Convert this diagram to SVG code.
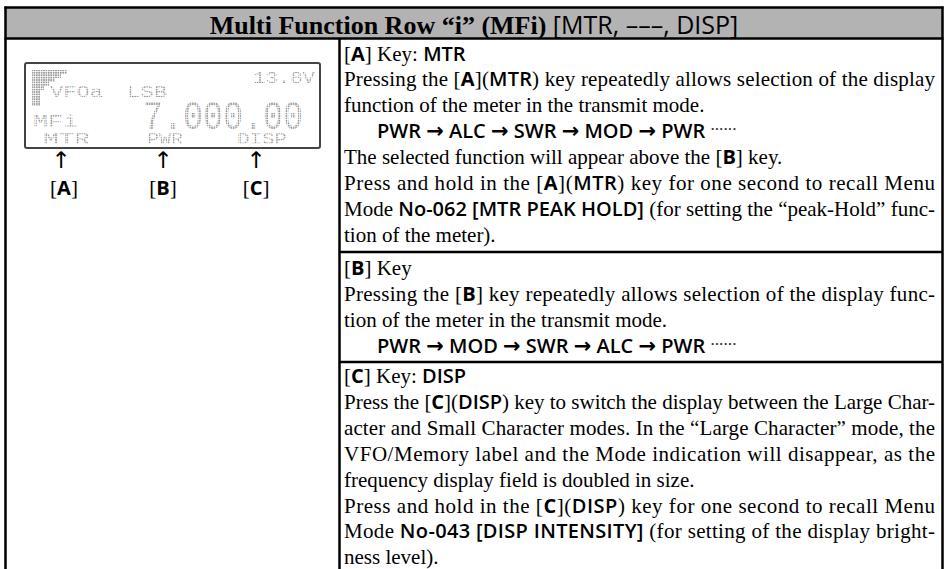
<svg xmlns="http://www.w3.org/2000/svg" width="948" height="569" viewBox="0 0 948 569">
<style>
.t{font-family:"Liberation Serif","Times New Roman",serif;font-size:21px;fill:#000}
.s{font-family:"Open Sans","Liberation Sans",sans-serif;font-weight:600;font-size:20px}
.k{font-family:"Open Sans","Liberation Sans",sans-serif;font-weight:700;font-size:20px}
.a{font-family:"DejaVu Sans",sans-serif;font-weight:700;font-size:21px}
.ttl{font-family:"Liberation Serif","Times New Roman",serif;font-weight:700;font-size:26px;fill:#000}
.ttls{font-family:"Open Sans","Liberation Sans",sans-serif;font-weight:500;font-size:25px}
.lcd{font-family:"Liberation Mono","DejaVu Sans Mono",monospace;fill:url(#dots)}
.dl{font-family:"Liberation Serif",serif;font-size:13px;fill:#333}
.rule{stroke:#000;stroke-width:2.5;fill:none}
.arr{font-family:"DejaVu Sans",sans-serif;font-size:23px;text-anchor:middle}
</style>
<defs>
<pattern id="dots" width="2.4" height="2.4" patternUnits="userSpaceOnUse"><rect width="1.7" height="1.7" fill="#999"/></pattern>
</defs>
<rect width="948" height="569" fill="#fff"/>
<g id="frame">
<rect x="5" y="7" width="938" height="31" fill="#b3b3b3"/>
<line class="rule" x1="4.5" y1="7.5" x2="943.5" y2="7.5"/>
<line class="rule" x1="4.5" y1="38.5" x2="943.5" y2="38.5"/>
<line class="rule" x1="5.5" y1="6.5" x2="5.5" y2="569"/>
<line class="rule" x1="942.5" y1="6.5" x2="942.5" y2="569"/>
<line class="rule" x1="339.5" y1="38" x2="339.5" y2="569"/>
<line class="rule" x1="339" y1="252" x2="943" y2="252"/>
<line class="rule" x1="339" y1="362" x2="943" y2="362"/>
</g>
<g id="title">
<text x="474" y="34" text-anchor="middle"><tspan class="ttl">Multi Function Row “i” (MFi)</tspan><tspan class="ttls"> [MTR,  –––, DISP]</tspan></text>
</g>
<g id="lcd">
<rect x="25" y="63" width="295" height="85" rx="2" fill="#fff" stroke="#444" stroke-width="2"/>
<polygon points="32,70 67,70 67,74 61,74 61,78 55,78 55,82 49,82 49,86 44,86 44,90 40,90 40,106 32,106" fill="url(#dots)"/>
<text class="lcd" x="253" y="83" font-size="17" textLength="62" lengthAdjust="spacingAndGlyphs">13.8V</text>
<text class="lcd" x="50" y="97" font-size="17" textLength="53" lengthAdjust="spacingAndGlyphs">VFOa</text>
<text class="lcd" x="127" y="97" font-size="17" textLength="40" lengthAdjust="spacingAndGlyphs">LSB</text>
<text class="lcd" x="33" y="127" font-size="18" textLength="45" lengthAdjust="spacingAndGlyphs">MFi</text>
<text class="lcd" x="143" y="129" font-size="40" textLength="160" lengthAdjust="spacingAndGlyphs">7.000.00</text>
<text class="lcd" x="43" y="144" font-size="16" textLength="47" lengthAdjust="spacingAndGlyphs">MTR</text>
<text class="lcd" x="147" y="144" font-size="16" textLength="36" lengthAdjust="spacingAndGlyphs">PWR</text>
<text class="lcd" x="237" y="144" font-size="16" textLength="50" lengthAdjust="spacingAndGlyphs">DISP</text>
</g>
<g id="keys">
<text class="arr" x="61" y="168">↑</text>
<text class="arr" x="163" y="168">↑</text>
<text class="arr" x="256" y="168">↑</text>
<text class="t" x="64" y="195" text-anchor="middle">[<tspan class="k">A</tspan>]</text>
<text class="t" x="163" y="195" text-anchor="middle">[<tspan class="k">B</tspan>]</text>
<text class="t" x="256" y="195" text-anchor="middle">[<tspan class="k">C</tspan>]</text>
</g>
<g id="section-a">
<text class="t" x="344" y="60.5">[<tspan class="k">A</tspan>] Key: <tspan class="s">MTR</tspan></text>
<text class="t" x="344" y="86.4" textLength="591" lengthAdjust="spacing">Pressing the [<tspan class="k">A</tspan>](<tspan class="s">MTR</tspan>) key repeatedly allows selection of the display</text>
<text class="t" x="344" y="112.3">function of the meter in the transmit mode.</text>
<text class="s" x="377" y="138.2">PWR <tspan class="a">→</tspan> ALC <tspan class="a">→</tspan> SWR <tspan class="a">→</tspan> MOD <tspan class="a">→</tspan> PWR <tspan class="dl" dy="-5">······</tspan></text>
<text class="t" x="344" y="164.1">The selected function will appear above the [<tspan class="k">B</tspan>] key.</text>
<text class="t" x="344" y="190" textLength="591" lengthAdjust="spacing">Press and hold in the [<tspan class="k">A</tspan>](<tspan class="s">MTR</tspan>) key for one second to recall Menu</text>
<text class="t" x="344" y="215.9" textLength="591" lengthAdjust="spacing">Mode <tspan class="s">No-062 [MTR PEAK HOLD]</tspan> (for setting the “peak-Hold” func-</text>
<text class="t" x="344" y="241.8">tion of the meter).</text>
</g>
<g id="section-b">
<text class="t" x="344" y="275">[<tspan class="k">B</tspan>] Key</text>
<text class="t" x="344" y="300.9" textLength="591" lengthAdjust="spacing">Pressing the [<tspan class="k">B</tspan>] key repeatedly allows selection of the display func-</text>
<text class="t" x="344" y="326.8">tion of the meter in the transmit mode.</text>
<text class="s" x="377" y="352.7">PWR <tspan class="a">→</tspan> MOD <tspan class="a">→</tspan> SWR <tspan class="a">→</tspan> ALC <tspan class="a">→</tspan> PWR <tspan class="dl" dy="-5">······</tspan></text>
</g>
<g id="section-c">
<text class="t" x="344" y="383">[<tspan class="k">C</tspan>] Key: <tspan class="s">DISP</tspan></text>
<text class="t" x="344" y="408.9" textLength="591" lengthAdjust="spacing">Press the [<tspan class="k">C</tspan>](<tspan class="s">DISP</tspan>) key to switch the display between the Large Char-</text>
<text class="t" x="344" y="434.8" textLength="591" lengthAdjust="spacing">acter and Small Character modes. In the “Large Character” mode, the</text>
<text class="t" x="344" y="460.7" textLength="591" lengthAdjust="spacing">VFO/Memory label and the Mode indication will disappear, as the</text>
<text class="t" x="344" y="486.6">frequency display field is doubled in size.</text>
<text class="t" x="344" y="512.5" textLength="591" lengthAdjust="spacing">Press and hold in the [<tspan class="k">C</tspan>](<tspan class="s">DISP</tspan>) key for one second to recall Menu</text>
<text class="t" x="344" y="538.4" textLength="591" lengthAdjust="spacing">Mode <tspan class="s">No-043 [DISP INTENSITY]</tspan> (for setting of the display bright-</text>
<text class="t" x="344" y="564.3">ness level).</text>
</g>
</svg>
